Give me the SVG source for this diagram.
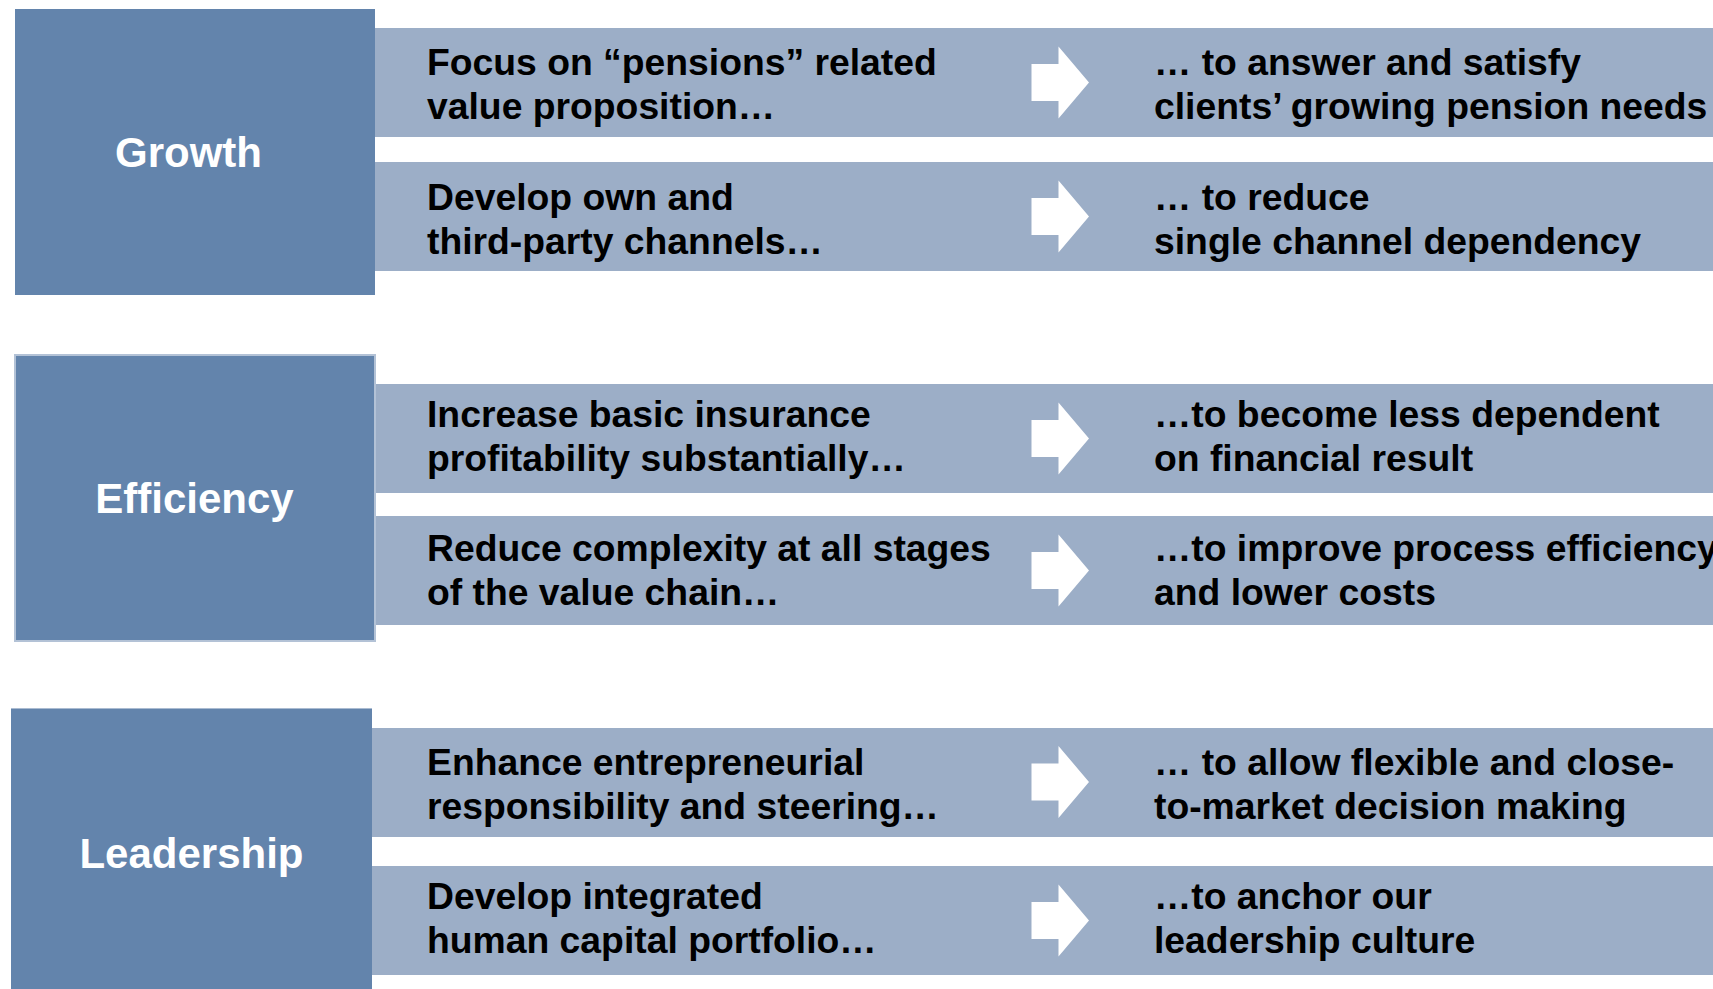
<svg xmlns="http://www.w3.org/2000/svg" width="1713" height="989" viewBox="0 0 1713 989">
  <style>
    .pillar { fill: #6384AC; }
    .bar { fill: #9CAEC7; }
    .label { font-family: "Liberation Sans", Arial, sans-serif; font-weight: bold; font-size: 42px; fill: #FFFFFF; text-anchor: middle; }
    .txt { font-family: "Liberation Sans", Arial, sans-serif; font-weight: bold; font-size: 37.3px; fill: #000000; }
    .arrow { fill: #FFFFFF; }
  </style>
  <defs>
    <!-- block arrow centred on y=0, drawn from x=0 -->
    <path id="blockArrow" d="M0,-18.5 H27 V-36 L57.5,0 L27,36 V18.5 H0 Z"/>
  </defs>
  <rect width="1713" height="989" fill="#FFFFFF"/>

  <!-- Growth -->
  <g id="growth">
    <rect class="pillar" x="15" y="9" width="360" height="286"/>
    <text class="label" x="188.5" y="167">Growth</text>
  </g>
  <g id="growth-1">
    <rect class="bar" x="375" y="28" width="1338" height="109"/>
    <text class="txt" x="427" y="75">Focus on “pensions” related</text>
    <text class="txt" x="427" y="119">value proposition…</text>
    <text class="txt" x="1154" y="75">… to answer and satisfy</text>
    <text class="txt" x="1154" y="119">clients’ growing pension needs</text>
  </g>
  <g id="growth-2">
    <rect class="bar" x="375" y="162" width="1338" height="109"/>
    <text class="txt" x="427" y="209.5">Develop own and</text>
    <text class="txt" x="427" y="253.5">third-party channels…</text>
    <text class="txt" x="1154" y="209.5">… to reduce</text>
    <text class="txt" x="1154" y="253.5">single channel dependency</text>
  </g>

  <!-- Efficiency -->
  <g id="efficiency">
    <rect class="pillar" x="15" y="355" width="360" height="286" stroke="#B3C2D6" stroke-width="2"/>
    <text class="label" x="194.5" y="513">Efficiency</text>
  </g>
  <g id="efficiency-1">
    <rect class="bar" x="376" y="384" width="1337" height="109"/>
    <text class="txt" x="427" y="426.5">Increase basic insurance</text>
    <text class="txt" x="427" y="470.5">profitability substantially…</text>
    <text class="txt" x="1154" y="426.5">…to become less dependent</text>
    <text class="txt" x="1154" y="470.5">on financial result</text>
  </g>
  <g id="efficiency-2">
    <rect class="bar" x="376" y="516" width="1337" height="109"/>
    <text class="txt" x="427" y="560.5">Reduce complexity at all stages</text>
    <text class="txt" x="427" y="604.5">of the value chain…</text>
    <text class="txt" x="1154" y="560.5">…to improve process efficiency</text>
    <text class="txt" x="1154" y="604.5">and lower costs</text>
  </g>

  <!-- Leadership -->
  <g id="leadership">
    <rect class="pillar" x="11" y="708" width="361" height="290"/>
    <line x1="11" y1="708.5" x2="372" y2="708.5" stroke="#AABBD1" stroke-width="1"/>
    <text class="label" x="191.5" y="868">Leadership</text>
  </g>
  <g id="leadership-1">
    <rect class="bar" x="372" y="728" width="1341" height="109"/>
    <text class="txt" x="427" y="774.5">Enhance entrepreneurial</text>
    <text class="txt" x="427" y="818.5">responsibility and steering…</text>
    <text class="txt" x="1154" y="774.5">… to allow flexible and close-</text>
    <text class="txt" x="1154" y="818.5">to-market decision making</text>
  </g>
  <g id="leadership-2">
    <rect class="bar" x="372" y="866" width="1341" height="109"/>
    <text class="txt" x="427" y="908.5">Develop integrated</text>
    <text class="txt" x="427" y="953">human capital portfolio…</text>
    <text class="txt" x="1154" y="908.5">…to anchor our</text>
    <text class="txt" x="1154" y="953">leadership culture</text>
  </g>

  <!-- arrows from each measure to its purpose -->
  <g id="connectors" class="arrow">
    <use href="#blockArrow" x="1031.5" y="82.5"/>
    <use href="#blockArrow" x="1031.5" y="216.5"/>
    <use href="#blockArrow" x="1031.5" y="438.5"/>
    <use href="#blockArrow" x="1031.5" y="570.5"/>
    <use href="#blockArrow" x="1031.5" y="782"/>
    <use href="#blockArrow" x="1031.5" y="920.5"/>
  </g>
</svg>
